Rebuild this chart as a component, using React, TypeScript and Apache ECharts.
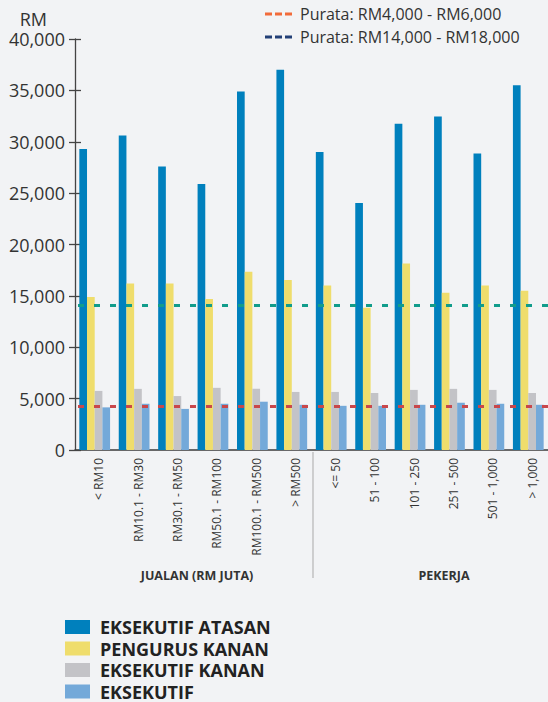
import React, { useEffect, useRef } from "react";
import * as echarts from "echarts";

const categories = [
  "< RM10",
  "RM10.1 - RM30",
  "RM30.1 - RM50",
  "RM50.1 - RM100",
  "RM100.1 - RM500",
  "> RM500",
  "<= 50",
  "51 - 100",
  "101 - 250",
  "251 - 500",
  "501 - 1,000",
  "> 1,000",
];
const groupTitles = ["JUALAN (RM JUTA)", "PEKERJA"];
const seriesNames = ["EKSEKUTIF ATASAN", "PENGURUS KANAN", "EKSEKUTIF KANAN", "EKSEKUTIF"];
const eksekutifAtasan = [29300, 30600, 27600, 25900, 34900, 37000, 29000, 24050, 31750, 32450, 28850, 35500];
const pengurusKanan = [14900, 16200, 16200, 14700, 17350, 16550, 16000, 13850, 18150, 15300, 16000, 15500];
const eksekutifKanan = [5750, 5950, 5250, 6050, 5950, 5650, 5650, 5550, 5850, 5950, 5850, 5550];
const eksekutif = [4150, 4500, 4000, 4500, 4700, 4400, 4300, 4300, 4400, 4600, 4500, 4400];
const avgNames = ["Purata: RM4,000 - RM6,000", "Purata: RM14,000 - RM18,000"];
const avgValues = [4300, 14100];
const yMin = 0;
const yMax = 40000;
const yInterval = 5000;

const barColors = ["#0080bd", "#efdd6c", "#c3c3c7", "#74a9d9"];
const avgLegendColors = ["#f26b3a", "#223f76"];
const avgLineColors = ["#c8474b", "#119c8b"];
const FONT = "'Open Sans', 'Noto Sans', sans-serif";
const DASH_ICON = "path://M0,0H7V3H0Z M10,0H17V3H10Z M20,0H27V3H20Z";

export default function App() {
  const ref = useRef<HTMLDivElement>(null);
  useEffect(() => {
    document.body.style.margin = "0";
    const chart = echarts.init(ref.current!, null, { renderer: "svg" });
    const barData = [eksekutifAtasan, pengurusKanan, eksekutifKanan, eksekutif];
    const bars = seriesNames.map((name, i) => ({
      name,
      type: "bar",
      data: barData[i],
      barGap: "0%",
      barCategoryGap: "22%",
      itemStyle: { color: barColors[i] },
      z: 2,
    }));
    const lines = avgNames.map((name, i) => ({
      name,
      type: "line",
      data: [],
      symbol: "none",
      color: avgLegendColors[i],
      itemStyle: { color: avgLegendColors[i] },
      lineStyle: { color: avgLegendColors[i], width: 3 },
      z: 5,
      markLine: {
        silent: true,
        symbol: ["none", "none"],
        label: { show: false },
        lineStyle: { color: avgLineColors[i], width: 3, type: [6, 10], dashOffset: -3 },
        data: [{ yAxis: avgValues[i] }],
        z: 5,
      },
    }));
    chart.setOption({
      animation: false,
      backgroundColor: "#f2f3f5",
      textStyle: { fontFamily: FONT },
      grid: { left: 75, top: 39, width: 475, height: 411 },
      legend: [
        {
          data: avgNames.map((n) => ({ name: n, icon: DASH_ICON })),
          orient: "vertical",
          left: 265,
          top: 6,
          padding: 0,
          itemWidth: 27,
          itemHeight: 3,
          itemGap: 7,
          textStyle: { fontSize: 16, color: "#333", fontFamily: FONT, padding: [0, 0, 0, 3] },
        },
        {
          data: seriesNames,
          orient: "vertical",
          left: 65,
          top: 617,
          padding: 0,
          itemWidth: 25,
          itemHeight: 14,
          itemGap: 1.5,
          icon: "rect",
          textStyle: {
            fontSize: 18,
            lineHeight: 20,
            fontWeight: "bold",
            color: "#222",
            fontFamily: FONT,
            padding: [0, 0, 0, 5],
          },
        },
      ],
      xAxis: {
        type: "category",
        data: categories,
        axisLine: { lineStyle: { color: "#3a3a3a", width: 1.5 } },
        axisTick: { show: false },
        axisLabel: {
          rotate: 90,
          fontSize: 12,
          color: "#333",
          margin: 8,
          fontFamily: FONT,
          verticalAlign: "top",
          lineHeight: 8,
        },
      },
      yAxis: [
        {
          type: "value",
          min: yMin,
          max: yMax,
          interval: yInterval,
          name: "RM",
          nameLocation: "end",
          nameGap: 20,
          nameTextStyle: {
            fontSize: 18,
            color: "#333",
            align: "right",
            verticalAlign: "middle",
            padding: [0, 28, 0, 0],
            fontFamily: FONT,
          },
          axisLine: { show: true, lineStyle: { color: "#444", width: 1.3 } },
          axisTick: { show: true, length: 6, lineStyle: { color: "#444", width: 1.3 } },
          splitLine: { show: false },
          axisLabel: {
            fontSize: 18,
            color: "#333",
            margin: 10,
            fontFamily: FONT,
            formatter: (v: number) => v.toLocaleString("en-US"),
          },
        },
        {
          type: "value",
          min: yMin,
          max: yMax,
          interval: yInterval,
          position: "left",
          axisLine: { show: false },
          axisTick: { show: true, inside: true, length: 6, lineStyle: { color: "#444", width: 1.3 } },
          splitLine: { show: false },
          axisLabel: { show: false },
        },
      ],
      graphic: [
        {
          type: "line",
          shape: { x1: 313, y1: 452, x2: 313, y2: 578 },
          style: { stroke: "#b5b5b5", lineWidth: 1.2 },
        },
        {
          type: "text",
          x: 197,
          y: 575,
          style: {
            text: groupTitles[0],
            fontSize: 12.5,
            fontWeight: "bold",
            fill: "#333",
            align: "center",
            verticalAlign: "middle",
            fontFamily: FONT,
          },
        },
        {
          type: "text",
          x: 444,
          y: 575,
          style: {
            text: groupTitles[1],
            fontSize: 12.5,
            fontWeight: "bold",
            fill: "#333",
            align: "center",
            verticalAlign: "middle",
            fontFamily: FONT,
          },
        },
      ],
      series: [...bars, ...lines],
    });
    return () => chart.dispose();
  }, []);
  return <div ref={ref} style={{ width: 548, height: 702, background: "#f2f3f5" }} />;
}
